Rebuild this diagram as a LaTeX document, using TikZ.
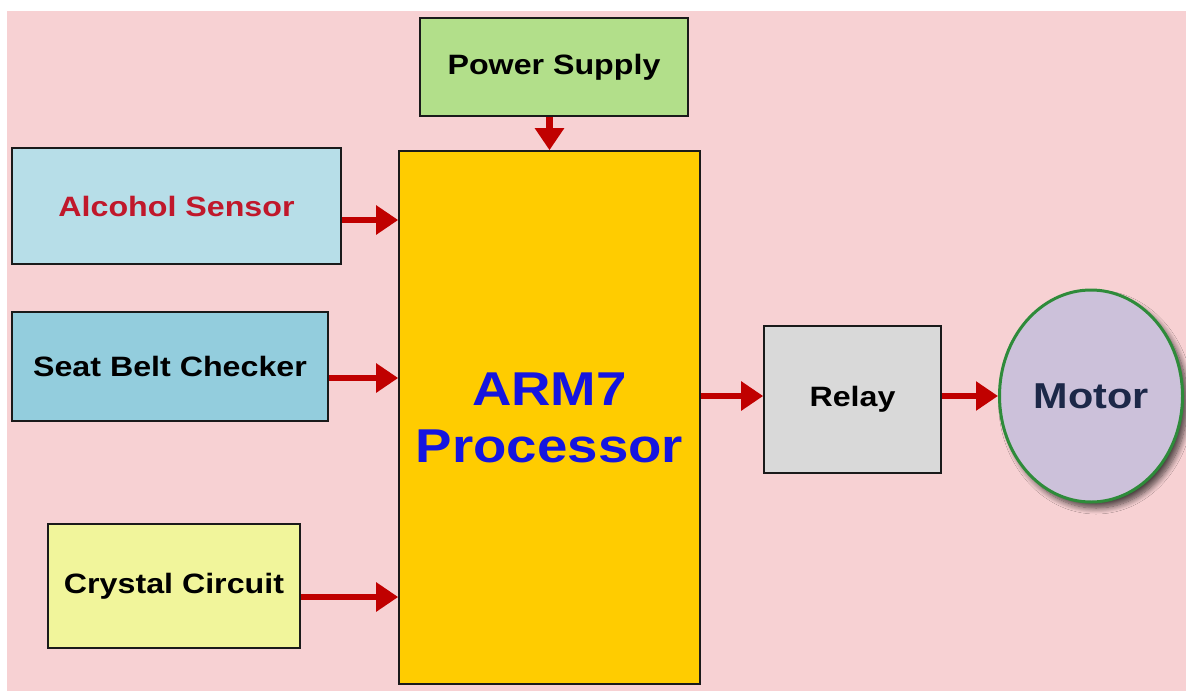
\documentclass[tikz,border=0pt]{standalone}
\usepackage{fontspec}
\setmainfont{Liberation Sans}[FakeStretch=1.15]
\usetikzlibrary{arrows.meta,shapes.geometric,shadows.blur}
\definecolor{bgpink}{HTML}{F7D1D3}
\definecolor{pwgreen}{HTML}{B2DF8A}
\definecolor{alcblue}{HTML}{B7DEE8}
\definecolor{seatblue}{HTML}{93CDDD}
\definecolor{crysyel}{HTML}{F1F59B}
\definecolor{armyel}{HTML}{FFCC00}
\definecolor{relaygray}{HTML}{D9D9D9}
\definecolor{motorfill}{HTML}{CCC1DA}
\definecolor{motorline}{HTML}{2E8B3A}
\definecolor{arrred}{HTML}{C00000}
\definecolor{alctext}{HTML}{C0182B}
\definecolor{armtext}{HTML}{1515E0}
\definecolor{motortext}{HTML}{1C2848}
\definecolor{edge}{HTML}{1A1A1A}
\begin{document}
\begin{tikzpicture}[x=1pt,y=-1pt,
  blockbox/.style={draw=edge,line width=1.6pt,rectangle,inner sep=0pt,
    font=\fontsize{28}{32}\selectfont\bfseries,text=black},
  arr/.style={draw=arrred,line width=6.5pt,-{Triangle[length=22pt,width=28pt]}}]
\useasboundingbox (0,0) rectangle (1186,691);
\fill[bgpink] (7,11) rectangle (1186,691);
\node[blockbox,fill=pwgreen,minimum width=268pt,minimum height=98pt] (power) at (554,67) {Power Supply};
\node[blockbox,fill=alcblue,minimum width=329pt,minimum height=116pt,text=alctext] (alcohol) at (176.5,206) {Alcohol Sensor};
\node[blockbox,fill=seatblue,minimum width=316pt,minimum height=109pt] (seat) at (170,366.5) {Seat Belt Checker};
\node[blockbox,fill=crysyel,minimum width=252pt,minimum height=124pt] (crystal) at (174,586) {Crystal Circuit};
\node[blockbox,fill=armyel,minimum width=301pt,minimum height=533pt,align=center,
  font=\fontsize{47.5}{61}\selectfont\bfseries,text=armtext] (arm) at (549.5,417.5) {ARM7\\[-4pt]Processor};
\node[blockbox,fill=relaygray,minimum width=177pt,minimum height=147pt] (relay) at (852.5,399.5) {Relay};
\node[ellipse,draw=motorline,line width=3pt,fill=motorfill,minimum width=183pt,minimum height=212pt,inner sep=0pt,
  font=\fontsize{36}{40}\selectfont\bfseries,text=motortext,
  blur shadow={shadow xshift=5pt,shadow yshift=-6pt,shadow blur steps=10,shadow blur radius=6pt,shadow opacity=70}] (motor) at (1091,396) {Motor};
% connectors
\draw[arr] (arm.north |- power.south) -- (arm.north);
\coordinate (a1) at ([yshift=-14pt]alcohol.east);
\draw[arr] (a1) -- (a1 -| arm.west);
\coordinate (s1) at ([yshift=-11.5pt]seat.east);
\draw[arr] (s1) -- (s1 -| arm.west);
\coordinate (c1) at ([yshift=-11pt]crystal.east);
\draw[arr] (c1) -- (c1 -| arm.west);
\coordinate (r1) at ([yshift=3.5pt]relay.west);
\draw[arr] (r1 -| arm.east) -- (r1);
\draw[arr] (relay.east |- motor.west) -- (motor.west);
\end{tikzpicture}
\end{document}
